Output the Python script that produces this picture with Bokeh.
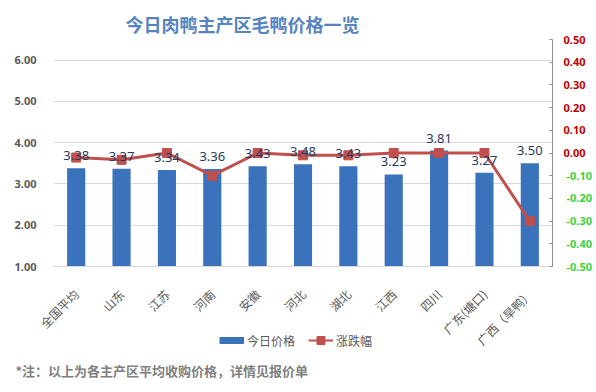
import math
from bokeh.plotting import figure
from bokeh.layouts import column
from bokeh.core.properties import value
from bokeh.models import (ColumnDataSource, Range1d, LinearAxis, FactorRange, Title, Label,
                          Legend, LegendItem, FixedTicker, NumeralTickFormatter, LabelSet,
                          CustomJSTickFormatter)
from bokeh.embed import file_html
from bokeh.resources import INLINE

# ---- data ----
categories = ["全国平均", "山东", "江苏", "河南", "安徽", "河北", "湖北", "江西", "四川", "广东(塘口)", "广西（旱鸭）"]
prices = [3.38, 3.37, 3.34, 3.36, 3.43, 3.48, 3.43, 3.23, 3.81, 3.27, 3.50]
changes = [-0.02, -0.03, 0.00, -0.10, 0.00, -0.01, -0.01, 0.00, 0.00, 0.00, -0.30]
price_ticks = [1, 2, 3, 4, 5, 6]
change_ticks = [-0.5, -0.4, -0.3, -0.2, -0.1, 0.0, 0.1, 0.2, 0.3, 0.4, 0.5]
neg_ticks = [t for t in change_ticks if t < 0]
title_text = "今日肉鸭主产区毛鸭价格一览"
note_text = "*注：以上为各主产区平均收购价格，详情见报价单"
legend_labels = ["今日价格", "涨跌幅"]

CJK = "Noto Sans CJK SC"
NUM = "Noto Sans"
BAR = "#3A72BC"
RED = "#C0504D"
GRAY = "#595959"

W, H = 596, 392
p = figure(x_range=FactorRange(*categories), y_range=Range1d(1, 6.5),
           width=W, height=H, output_backend="svg", toolbar_location=None,
           min_border_left=53, min_border_right=44, min_border_top=39, min_border_bottom=126)
p.outline_line_color = None
p.extra_y_ranges = {"chg": Range1d(-0.5, 0.5)}

src = ColumnDataSource(dict(
    cat=categories, price=prices, chg=changes,
    price_label=["%.2f" % v for v in prices],
))

bars = p.vbar(x="cat", top="price", bottom=p.y_range.start, width=0.4, source=src,
              fill_color=BAR, line_color=None)
line = p.line(x="cat", y="chg", y_range_name="chg", source=src, line_color=RED, line_width=3)
pts = p.scatter(x="cat", y="chg", y_range_name="chg", source=src, marker="square",
                size=9, fill_color=RED, line_color=RED)

labels = LabelSet(x="cat", y="price", text="price_label", source=src, y_offset=8,
                  text_align="center", text_baseline="bottom",
                  text_font=value(NUM), text_font_size="13px", text_color="#1F3A60")
p.add_layout(labels)

# title
p.title = Title(text=title_text, align="left", offset=72, standoff=5,
                text_font=CJK, text_font_size="18px", text_font_style="bold",
                text_color="#5584BE")

# grid
p.xgrid.grid_line_color = None
p.ygrid.ticker = FixedTicker(ticks=price_ticks)
p.ygrid.grid_line_color = "#D9D9D9"

# left axis
ya = p.yaxis[0]
ya.ticker = FixedTicker(ticks=price_ticks)
ya.formatter = NumeralTickFormatter(format="0.00")
ya.axis_line_color = None
ya.major_tick_line_color = None
ya.minor_tick_line_color = None
ya.major_label_standoff = 11
ya.major_label_text_font = NUM
ya.major_label_text_font_size = "11px"
ya.major_label_text_font_style = "bold"
ya.major_label_text_color = GRAY

# bottom axis
xa = p.xaxis[0]
xa.axis_line_color = "#D9D9D9"
xa.major_tick_line_color = None
xa.minor_tick_line_color = None
xa.major_label_orientation = math.pi / 4
xa.major_label_standoff = 19
xa.major_label_text_font = CJK
xa.major_label_text_font_size = "12px"
xa.major_label_text_color = GRAY

# right axis: red labels for >= 0 (inner axis, also carries all tick marks)
ra = LinearAxis(y_range_name="chg", ticker=FixedTicker(ticks=change_ticks))
ra.formatter = CustomJSTickFormatter(code="return tick >= -1e-9 ? tick.toFixed(2) : '';")
ra.axis_line_color = "#8C8C8C"
ra.major_tick_line_color = "#8C8C8C"
ra.major_tick_in = 3
ra.major_tick_out = 0
ra.minor_tick_line_color = None
ra.major_label_standoff = 11
ra.major_label_text_font = NUM
ra.major_label_text_font_size = "11px"
ra.major_label_text_font_style = "bold"
ra.major_label_text_color = "#C00000"
p.add_layout(ra, "right")

# green labels for negatives (outer axis, pulled back onto the same column)
ga = LinearAxis(y_range_name="chg", ticker=FixedTicker(ticks=neg_ticks))
ga.formatter = NumeralTickFormatter(format="0.00")
ga.axis_line_color = None
ga.major_tick_line_color = None
ga.minor_tick_line_color = None
ga.major_tick_in = 0
ga.major_tick_out = 0
ga.major_label_standoff = -22
ga.major_label_text_font = NUM
ga.major_label_text_font_size = "11px"
ga.major_label_text_font_style = "bold"
ga.major_label_text_color = "#3CD33C"
p.add_layout(ga, "right")

# ---- transparent overlay figure for legend and footnote ----
q = figure(width=W, height=H, x_range=Range1d(0, W), y_range=Range1d(0, H),
           output_backend="svg", toolbar_location=None, min_border=0,
           x_axis_location=None, y_axis_location=None)
q.margin = (-H, 0, 0, 0)
for fig in (p, q):
    if "frame_align" in fig.properties():
        fig.frame_align = False
q.grid.grid_line_color = None
q.outline_line_color = None
q.background_fill_alpha = 0
q.border_fill_alpha = 0

leg_src = ColumnDataSource(dict(v=prices))
leg_bar = q.line(x="v", y="v", source=leg_src, line_color=BAR, line_width=7, visible=False)
leg_line = q.line(x="v", y="v", source=leg_src, line_color=RED, line_width=2, visible=False)
leg_pt = q.scatter(x="v", y="v", source=leg_src, marker="square", size=8,
                   fill_color=RED, line_color=RED, visible=False)
legend = Legend(items=[LegendItem(label=legend_labels[0], renderers=[leg_bar]),
                       LegendItem(label=legend_labels[1], renderers=[leg_line, leg_pt])],
                location=(219, 42), orientation="horizontal",
                glyph_width=25, glyph_height=20, label_standoff=3, spacing=13,
                padding=0, margin=0, border_line_color=None, background_fill_alpha=0,
                label_text_font=CJK, label_text_font_size="12px", label_text_color=GRAY,
                label_height=20)
q.add_layout(legend, "center")

q.add_layout(Label(x=15, y=22, x_units="screen", y_units="screen", text=note_text,
                   text_align="left", text_baseline="middle", text_font=CJK,
                   text_font_size="13px", text_font_style="bold", text_color="#808080"))

layout = column(p, q, spacing=0)
open("out.html", "w").write(file_html(layout, INLINE))
